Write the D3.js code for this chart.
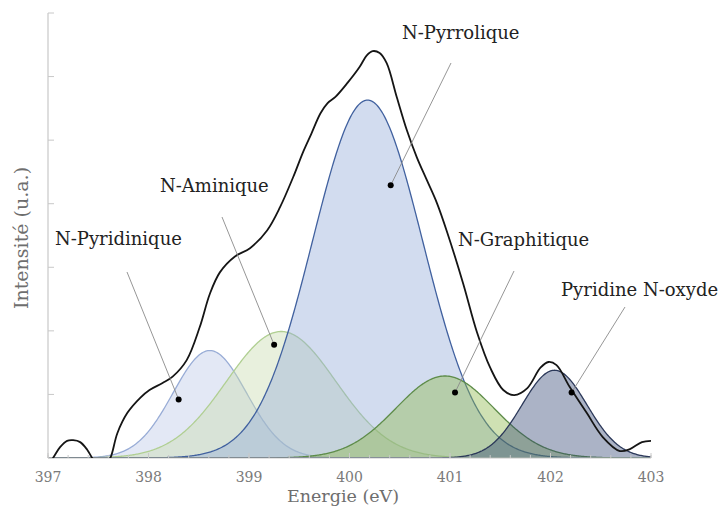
<!DOCTYPE html>
<html>
<head>
<meta charset="utf-8">
<script src="https://cdn.jsdelivr.net/npm/d3@7"></script>
<style>
  html, body { margin: 0; padding: 0; background: #fff; }
  svg { display: block; }
  text { font-family: "DejaVu Serif", "Liberation Serif", serif; }
</style>
</head>
<body>
<svg id="chart" width="721" height="508"></svg>
<script>
// ---------- data ----------
const xTicks = [397, 398, 399, 400, 401, 402, 403];
const yTickValues = [0, 1, 2, 3, 4, 5, 6, 7];

// measured envelope (black line): energy (eV) and intensity (a.u.)
const envEnergy = [397.00, 397.05, 397.12, 397.19, 397.25, 397.32, 397.39, 397.44, 397.52, 397.57, 397.62,
  397.69, 397.79, 397.92, 398.01, 398.14, 398.24, 398.38, 398.51, 398.61, 398.71, 398.86, 399.01,
  399.18, 399.31, 399.44, 399.54, 399.62, 399.71, 399.78, 399.86, 399.98, 400.10, 400.17, 400.23,
  400.30, 400.37, 400.47, 400.57, 400.67, 400.77, 400.87, 400.97, 401.13, 401.27, 401.40, 401.53,
  401.64, 401.77, 401.90, 401.98, 402.06, 402.19, 402.36, 402.52, 402.69, 402.79, 402.91, 403.00];
const envIntensity = [-0.10, 0.00, 0.17, 0.27, 0.28, 0.25, 0.13, 0.00, -0.15, -0.10, 0.00,
  0.39, 0.71, 0.95, 1.07, 1.18, 1.28, 1.54, 2.06, 2.58, 2.92, 3.17, 3.30,
  3.58, 3.95, 4.42, 4.82, 5.10, 5.42, 5.58, 5.68, 5.90, 6.15, 6.33, 6.40,
  6.37, 6.21, 5.68, 5.16, 4.73, 4.37, 4.01, 3.56, 2.75, 1.97, 1.42, 1.07,
  0.99, 1.10, 1.42, 1.51, 1.46, 1.12, 0.71, 0.33, 0.11, 0.14, 0.25, 0.27];

// fitted components (Gaussian peaks): name, centre (eV), height (a.u.), FWHM (eV)
const peakNames   = ["N-Pyridinique", "N-Aminique", "N-Pyrrolique", "N-Graphitique", "Pyridine N-oxyde"];
const peakCenters = [398.61, 399.32, 400.18, 400.95, 402.04];
const peakHeights = [1.69, 1.99, 5.63, 1.29, 1.38];
const peakFWHM    = [0.86, 1.28, 1.29, 1.15, 0.76];

// annotation anchor points (dot on the component), in data units
const dotEnergy    = [398.30, 399.25, 400.41, 401.05, 402.21];
const dotIntensity = [0.92, 1.78, 4.29, 1.03, 1.03];

// ---------- layout ----------
const svg = d3.select("#chart");
const x = d3.scaleLinear().domain([397, 403]).range([48, 651]);
const y = d3.scaleLinear().domain([0, 7]).range([458, 13]);

const fills   = ["#bcc8e8", "#c9dcae", "#93acd8", "#8cb84a", "#2c4070"];
const fillOp  = [0.42, 0.42, 0.42, 0.42, 0.40];
const strokes = ["#98acd6", "#b0cf92", "#41619f", "#5e8c4a", "#2b3859"];

// label layout (pixel): text left/baseline, leader line start
const labelPos = [
  { tx: 55,  ty: 245, lx: 127, ly: 272 },
  { tx: 160, ty: 192, lx: 222, ly: 217 },
  { tx: 402, ty: 39,  lx: 451, ly: 63 },
  { tx: 458, ty: 246, lx: 514, ly: 271 },
  { tx: 561, ty: 296, lx: 625, ly: 307 }
];

svg.append("defs").append("clipPath").attr("id", "plotclip")
  .append("rect").attr("x", 48).attr("y", 0).attr("width", 603).attr("height", 458);

// ---------- components ----------
const grid = d3.range(397, 403.0001, 0.01);
const comp = svg.append("g").attr("clip-path", "url(#plotclip)");
peakNames.forEach((name, i) => {
  const s = peakFWHM[i] / 2.3548;
  const pts = grid.map(e => [e, peakHeights[i] * Math.exp(-((e - peakCenters[i]) ** 2) / (2 * s * s))]);
  const area = d3.area().x(d => x(d[0])).y0(y(0)).y1(d => y(d[1]));
  const line = d3.line().x(d => x(d[0])).y(d => y(d[1]));
  comp.append("path").attr("d", area(pts)).attr("fill", fills[i]).attr("fill-opacity", fillOp[i]);
  comp.append("path").attr("d", line(pts)).attr("fill", "none").attr("stroke", strokes[i]).attr("stroke-width", 1.3);
});

// ---------- axes ----------
const axisColor = "#c8c8c8";
svg.append("line").attr("x1", 48).attr("x2", 48).attr("y1", 13).attr("y2", 458)
  .attr("stroke", axisColor).attr("stroke-width", 1.2);
svg.append("g").selectAll("line").data(yTickValues).join("line")
  .attr("x1", 48).attr("x2", 54).attr("y1", d => y(d)).attr("y2", d => y(d))
  .attr("stroke", axisColor).attr("stroke-width", 1);

svg.append("line").attr("x1", 48).attr("x2", 651).attr("y1", 458).attr("y2", 458)
  .attr("stroke", axisColor).attr("stroke-width", 1.2);
const minor = d3.range(397, 403.0001, 0.2);
svg.append("g").selectAll("line").data(minor).join("line")
  .attr("x1", d => x(d)).attr("x2", d => x(d)).attr("y1", 458).attr("y2", 455)
  .attr("stroke", axisColor).attr("stroke-width", 1);
svg.append("g").selectAll("line").data(xTicks).join("line")
  .attr("x1", d => x(d)).attr("x2", d => x(d)).attr("y1", 458).attr("y2", 453)
  .attr("stroke", axisColor).attr("stroke-width", 1);

svg.append("g").selectAll("text").data(xTicks).join("text")
  .attr("x", d => x(d)).attr("y", 482).attr("text-anchor", "middle")
  .attr("font-size", 14).attr("fill", "#7a7a7a").text(d => d);

svg.append("text").attr("x", 343).attr("y", 502).attr("text-anchor", "middle")
  .attr("font-size", 17.5).attr("fill", "#6e6e6e").text("Energie (eV)");
svg.append("text").attr("transform", "translate(28,238) rotate(-90)").attr("text-anchor", "middle")
  .attr("font-size", 19).attr("fill", "#6e6e6e").text("Intensité (u.a.)");

// ---------- envelope ----------
const env = envEnergy.map((e, i) => [e, envIntensity[i]]);
svg.append("g").attr("clip-path", "url(#plotclip)")
  .append("path")
  .attr("d", d3.line().x(d => x(d[0])).y(d => y(d[1])).curve(d3.curveCatmullRom.alpha(0.5))(env))
  .attr("fill", "none").attr("stroke", "#151515").attr("stroke-width", 1.8);

// ---------- annotations ----------
const ann = svg.append("g");
peakNames.forEach((name, i) => {
  const p = labelPos[i];
  ann.append("line").attr("x1", p.lx).attr("y1", p.ly)
    .attr("x2", x(dotEnergy[i])).attr("y2", y(dotIntensity[i]))
    .attr("stroke", "#8a8a8a").attr("stroke-width", 0.9);
  ann.append("circle").attr("cx", x(dotEnergy[i])).attr("cy", y(dotIntensity[i])).attr("r", 3).attr("fill", "#000");
  ann.append("text").attr("x", p.tx).attr("y", p.ty).attr("font-size", 18).attr("fill", "#222").text(name);
});
</script>
</body>
</html>
